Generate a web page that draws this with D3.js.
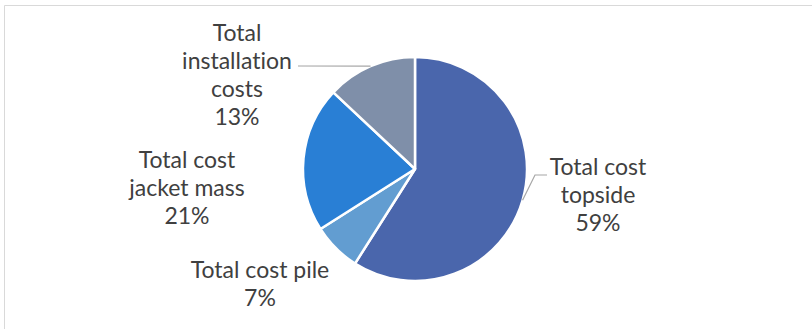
<!DOCTYPE html>
<html>
<head>
<meta charset="utf-8">
<script src="https://cdn.jsdelivr.net/npm/d3@7"></script>
<style>
  html, body { margin: 0; padding: 0; background: #fff; }
  svg { display: block; }
  .lbl { font-family: Lato, "Liberation Sans", sans-serif; font-size: 23px; fill: #404040;
         font-variant-ligatures: none; font-feature-settings: "liga" 0, "clig" 0; }
</style>
</head>
<body>
<svg id="chart" width="812" height="329"></svg>
<script>
// Cost breakdown of the structure (share of total, %)
const categories = [
  "Total cost topside",
  "Total cost pile",
  "Total cost jacket mass",
  "Total installation costs"
];
const shares = [59, 7, 21, 13];
const sliceColors = ["#4A66AC", "#629DD1", "#297FD5", "#7F8FA9"];
// How each category name wraps inside its data label
const labelLines = [
  ["Total cost", "topside"],
  ["Total cost pile"],
  ["Total cost", "jacket mass"],
  ["Total", "installation", "costs"]
];

const W = 812, H = 329;
const cx = 415, cy = 169, R = 112;
const lineH = 28;

// Label placement: centre x and first baseline, plus optional leader elbow
const labelLayout = [
  { x: 598, y: 175, leader: "elbow", elbow: [535, 175], end: [547, 175] },
  { x: 260, y: 278, leader: null },
  { x: 187, y: 168, leader: null },
  { x: 237, y: 41, leader: "flat", end: [298, 66] }
];

const svg = d3.select("#chart");

// Chart area frame (top and left edges visible)
svg.append("line").attr("x1", 4.5).attr("y1", 5.5).attr("x2", W).attr("y2", 5.5)
  .attr("stroke", "#d9d9d9").attr("stroke-width", 1);
svg.append("line").attr("x1", 4.5).attr("y1", 5.5).attr("x2", 4.5).attr("y2", H)
  .attr("stroke", "#d9d9d9").attr("stroke-width", 1);

const data = categories.map((c, i) => ({ name: c, value: shares[i], color: sliceColors[i], lines: labelLines[i], layout: labelLayout[i] }));

const pie = d3.pie().value(d => d.value).sort(null);
const arc = d3.arc().innerRadius(0).outerRadius(R);
const arcs = pie(data);

const g = svg.append("g").attr("transform", `translate(${cx},${cy})`);

g.selectAll("path.slice")
  .data(arcs)
  .join("path")
  .attr("class", "slice")
  .attr("d", arc)
  .attr("fill", d => d.data.color)
  .attr("stroke", "#fff")
  .attr("stroke-width", 2.5)
  .attr("stroke-linejoin", "round");

// Leader lines from the slice's outer mid-point to its label
arcs.forEach(a => {
  const L = a.data.layout;
  if (!L.leader) return;
  const mid = (a.startAngle + a.endAngle) / 2;
  const px = cx + R * Math.sin(mid);
  const py = cy - R * Math.cos(mid);
  const pts = [[px, py]];
  if (L.leader === "elbow") pts.push(L.elbow);
  pts.push(L.end);
  svg.append("path")
    .attr("d", d3.line()(pts))
    .attr("fill", "none")
    .attr("stroke", "#a6a6a6")
    .attr("stroke-width", 1.2);
});

// Data labels: category name (wrapped) and percentage
arcs.forEach(a => {
  const L = a.data.layout;
  const lines = a.data.lines.concat([d3.format(".0f")(a.data.value) + "%"]);
  const t = svg.append("text")
    .attr("class", "lbl")
    .attr("text-anchor", "middle");
  lines.forEach((s, k) => {
    t.append("tspan").attr("x", L.x).attr("y", L.y + k * lineH).text(s);
  });
});
</script>
</body>
</html>
